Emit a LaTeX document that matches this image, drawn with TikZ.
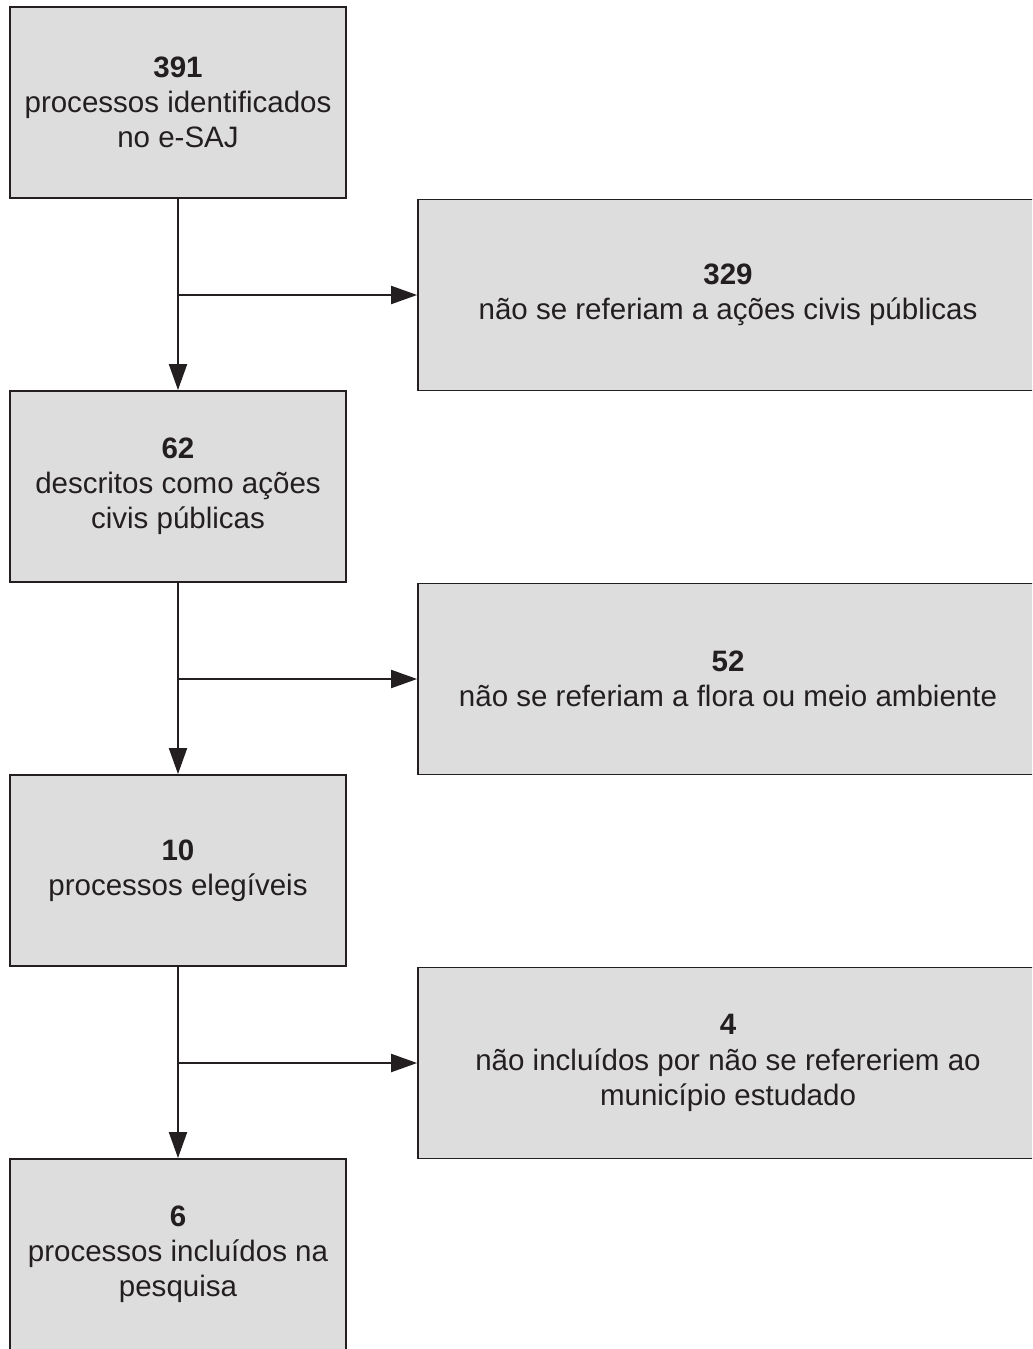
\documentclass[tikz,border=0pt]{standalone}
\usepackage{fontspec}
\setmainfont{Liberation Sans}
\usetikzlibrary{arrows.meta}
\definecolor{boxgray}{HTML}{DDDDDD}
\definecolor{ink}{HTML}{231F20}

\begin{document}
\begin{tikzpicture}[x=0.02cm, y=-0.02cm,
  every node/.style={font=\fontsize{16.8}{20}\selectfont, text=ink},
  box/.style={rectangle, draw=ink, line width=1.1pt, fill=boxgray, align=center, inner sep=0pt, minimum height=3.82cm},
  leftbox/.style={box, minimum width=6.72cm},
  rightbox/.style={box, minimum width=12.4cm},
  arr/.style={draw=ink, line width=1.2pt, -{Triangle[length=0.52cm, width=0.36cm]}}]
  \useasboundingbox (0,0) rectangle (1032,1349);
  \clip (0,0) rectangle (1032,1349);

  % Left column
  \node[leftbox] (n391) at (178,102.5) {\textbf{391}\\processos identificados\\no e-SAJ};
  \node[leftbox] (n62) at (178,486.5) {\textbf{62}\\descritos como ações\\civis públicas};
  \node[leftbox] (n10) at (178,870.5) {\textbf{10}\\processos elegíveis};
  \node[leftbox] (n6) at (178,1254.5) {\textbf{6}\\processos incluídos na\\pesquisa};

  % Right column (excluded)
  \node[rightbox] (n329) at (728,295) {\textbf{329}\\não se referiam a ações civis públicas};
  \node[rightbox] (n52) at (728,679) {\textbf{52}\\não se referiam a flora ou meio ambiente};
  \node[rightbox] (n4) at (728,1063) {\textbf{4}\\não incluídos por não se refereriem ao\\município estudado};

  % Branch points
  \coordinate (s1) at (178,295);
  \coordinate (s2) at (178,679);
  \coordinate (s3) at (178,1063);

  % Arrows
  \draw[arr] (n391.south) -- (n62.north);
  \draw[arr] (n62.south) -- (n10.north);
  \draw[arr] (n10.south) -- (n6.north);
  \draw[arr] (s1) -- (n329.west);
  \draw[arr] (s2) -- (n52.west);
  \draw[arr] (s3) -- (n4.west);
\end{tikzpicture}
\end{document}
